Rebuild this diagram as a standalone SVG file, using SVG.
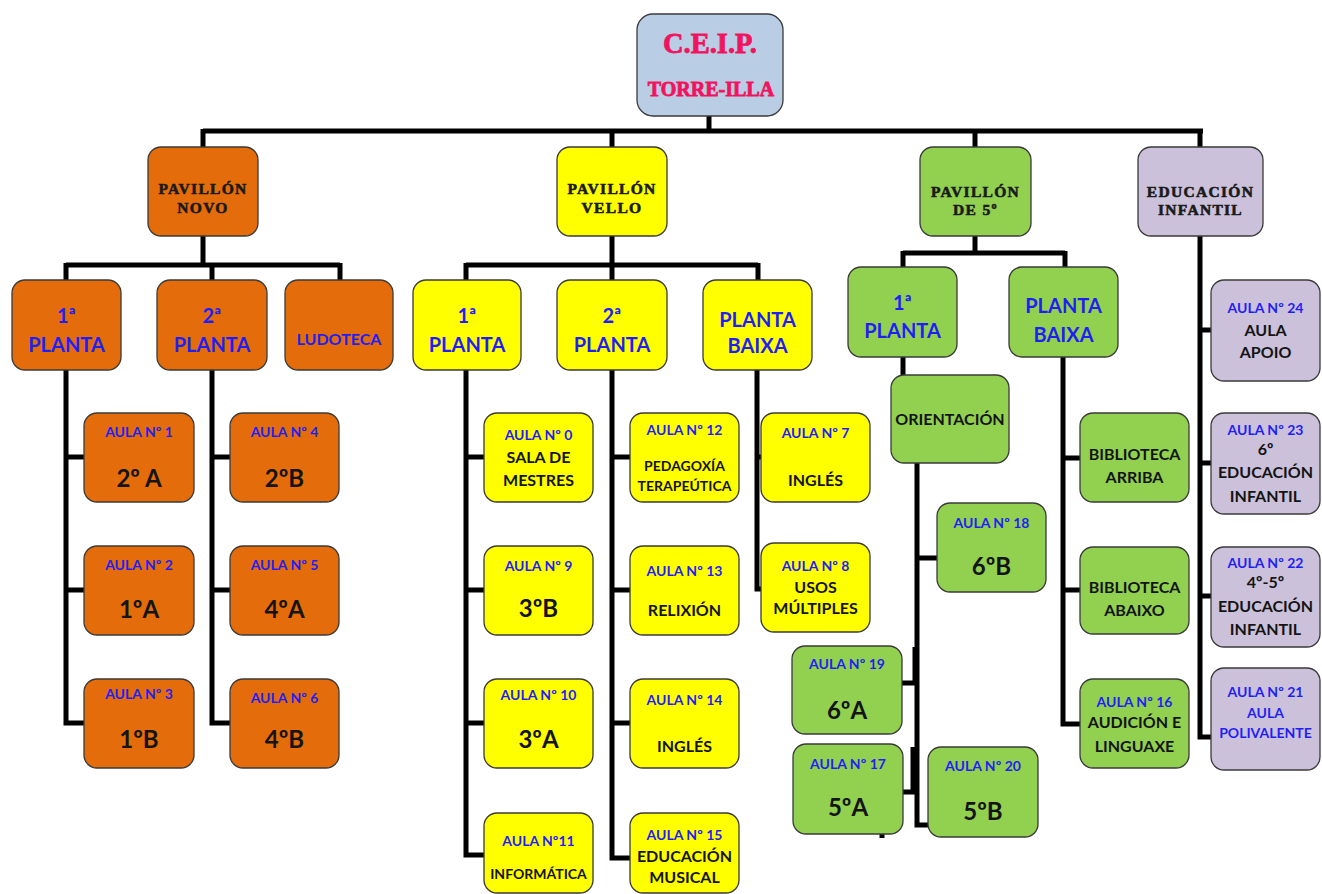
<svg xmlns="http://www.w3.org/2000/svg" width="1322" height="894" viewBox="0 0 1322 894">
<style>
.b{stroke:#3a3a3a;stroke-width:1.3}
.or{fill:#E46C0A}.ye{fill:#FFFF00}.gr{fill:#92D050}.la{fill:#CCC1DA}.rt{fill:#B9CDE5}
text{font-family:Lato,"Open Sans","Liberation Sans",sans-serif;font-weight:bold;text-anchor:middle}
.bl{fill:#1F1FF5}.dk{fill:#141414}
.s{font-size:14px}.m{font-size:16px}.g{font-size:24px}.p{font-size:20px}
.hd{font-family:"Liberation Serif","DejaVu Serif",serif;font-weight:900;font-size:15.5px;fill:#1a1a1a;letter-spacing:1.3px;stroke:#1a1a1a;stroke-width:0.6}
.pk{font-family:"Liberation Serif","DejaVu Serif",serif;font-weight:900;fill:#F0145E;stroke:#F0145E;stroke-width:0.8}
.c{fill:none;stroke:#000;stroke-width:5;stroke-linejoin:miter;stroke-linecap:butt}
</style>
<rect width="1322" height="894" fill="#fff"/>
<g id="connectors">
<path class="c" d="M709 116V131M203 131H1203M203 129V147M612 129V147M975 129V147M1200 129V147"/>
<path class="c" d="M203 236V265M66 265H340M66 263V280M212 263V280M340 263V280"/>
<path class="c" d="M66 370V723H84M66 457H84M66 590H84"/>
<path class="c" d="M212 370V723H230M212 457H230M212 590H230"/>
<path class="c" d="M612 236V265M466 265H758M466 263V280M612 263V280M758 263V280"/>
<path class="c" d="M466 370V855H484M466 457H484M466 590H484M466 723H484"/>
<path class="c" d="M612 370V858H630M612 457H630M612 590H630M612 723H630"/>
<path class="c" d="M757 370V589H761M757 457H761"/>
<path class="c" d="M975 236V253M903 253H1065M903 251V267M1065 251V267"/>
<path class="c" d="M903 357V375"/>
<path class="c" d="M917 463V825H937M917 558H937M917 683H902M915 792H903"/>
<path class="c" d="M915 647V683M913 747V793"/>
<path class="c" d="M882 834V838"/>
<path class="c" d="M1063 357V724H1080M1063 458H1080M1063 590H1080"/>
<path class="c" d="M1200 236V737H1211M1200 330H1211M1200 463H1211M1200 596H1211"/>
</g>
<g id="root"><rect class="b rt" x="637" y="14" width="146" height="102" rx="16"/>
<text class="pk" x="710" y="53" font-size="28.5">C.E.I.P.</text>
<text class="pk" x="711" y="96" font-size="20">TORRE-ILLA</text></g>
<g id="pav-novo"><rect class="b or" x="148" y="147" width="110" height="89" rx="13"/>
<text class="hd" x="203" y="194">PAVILLÓN</text><text class="hd" x="203" y="213">NOVO</text></g>
<g id="pav-vello"><rect class="b ye" x="557" y="147" width="110" height="89" rx="13"/>
<text class="hd" x="612" y="194">PAVILLÓN</text><text class="hd" x="612" y="213">VELLO</text></g>
<g id="pav-5"><rect class="b gr" x="920" y="147" width="111" height="89" rx="13"/>
<text class="hd" x="975.5" y="197">PAVILLÓN</text><text class="hd" x="975.5" y="215">DE 5º</text></g>
<g id="ed-infantil"><rect class="b la" x="1138" y="147" width="125" height="89" rx="13"/>
<text class="hd" x="1200.5" y="197">EDUCACIÓN</text><text class="hd" x="1200.5" y="215">INFANTIL</text></g>

<g id="novo-1p"><rect class="b or" x="12" y="280" width="109" height="90" rx="13"/>
<text class="bl p" x="66.5" y="323">1ª</text><text class="bl p" x="66.5" y="352">PLANTA</text></g>
<g id="novo-2p"><rect class="b or" x="157" y="280" width="110" height="90" rx="13"/>
<text class="bl p" x="212" y="323">2ª</text><text class="bl p" x="212" y="352">PLANTA</text></g>
<g id="ludoteca"><rect class="b or" x="285" y="280" width="108" height="90" rx="13"/>
<text class="bl m" x="339" y="345">LUDOTECA</text></g>

<g id="aula1"><rect class="b or" x="84" y="413" width="110" height="89" rx="13"/>
<text class="bl s" x="139" y="437">AULA Nº 1</text><text class="dk g" x="139" y="487">2º A</text></g>
<g id="aula2"><rect class="b or" x="84" y="546" width="110" height="89" rx="13"/>
<text class="bl s" x="139" y="570">AULA Nº 2</text><text class="dk g" x="139" y="618">1ºA</text></g>
<g id="aula3"><rect class="b or" x="84" y="679" width="110" height="89" rx="13"/>
<text class="bl s" x="139" y="699">AULA Nº 3</text><text class="dk g" x="139" y="748">1ºB</text></g>
<g id="aula4"><rect class="b or" x="230" y="413" width="109" height="89" rx="13"/>
<text class="bl s" x="284.5" y="437">AULA Nº 4</text><text class="dk g" x="284.5" y="487">2ºB</text></g>
<g id="aula5"><rect class="b or" x="230" y="546" width="109" height="89" rx="13"/>
<text class="bl s" x="284.5" y="570">AULA Nº 5</text><text class="dk g" x="284.5" y="618">4ºA</text></g>
<g id="aula6"><rect class="b or" x="230" y="679" width="109" height="89" rx="13"/>
<text class="bl s" x="284.5" y="703">AULA Nº 6</text><text class="dk g" x="284.5" y="748">4ºB</text></g>

<g id="vello-1p"><rect class="b ye" x="413" y="280" width="108" height="90" rx="13"/>
<text class="bl p" x="467" y="323">1ª</text><text class="bl p" x="467" y="352">PLANTA</text></g>
<g id="vello-2p"><rect class="b ye" x="557" y="280" width="110" height="90" rx="13"/>
<text class="bl p" x="612" y="323">2ª</text><text class="bl p" x="612" y="352">PLANTA</text></g>
<g id="vello-pb"><rect class="b ye" x="703" y="280" width="109" height="90" rx="13"/>
<text class="bl p" x="757.5" y="327">PLANTA</text><text class="bl p" x="757.5" y="353">BAIXA</text></g>

<g id="aula0"><rect class="b ye" x="484" y="413" width="109" height="89" rx="13"/>
<text class="bl s" x="538.5" y="440">AULA Nº 0</text><text class="dk m" x="538.5" y="463">SALA DE</text><text class="dk m" x="538.5" y="486">MESTRES</text></g>
<g id="aula9"><rect class="b ye" x="484" y="546" width="109" height="89" rx="13"/>
<text class="bl s" x="538.5" y="571">AULA Nº 9</text><text class="dk g" x="538.5" y="617">3ºB</text></g>
<g id="aula10"><rect class="b ye" x="484" y="679" width="109" height="89" rx="13"/>
<text class="bl s" x="538.5" y="700">AULA Nº 10</text><text class="dk g" x="538.5" y="748">3ºA</text></g>
<g id="aula11"><rect class="b ye" x="484" y="813" width="109" height="80" rx="13"/>
<text class="bl s" x="538.5" y="846">AULA Nº11</text><text class="dk s" x="538.5" y="879">INFORMÁTICA</text></g>
<g id="aula12"><rect class="b ye" x="630" y="413" width="109" height="89" rx="13"/>
<text class="bl s" x="684.5" y="435">AULA Nº 12</text><text class="dk s" x="684.5" y="471">PEDAGOXÍA</text><text class="dk s" x="684.5" y="491">TERAPEÚTICA</text></g>
<g id="aula13"><rect class="b ye" x="630" y="546" width="109" height="89" rx="13"/>
<text class="bl s" x="684.5" y="576">AULA Nº 13</text><text class="dk m" x="684.5" y="616">RELIXIÓN</text></g>
<g id="aula14"><rect class="b ye" x="630" y="679" width="109" height="89" rx="13"/>
<text class="bl s" x="684.5" y="705">AULA Nº 14</text><text class="dk m" x="684.5" y="752">INGLÉS</text></g>
<g id="aula15"><rect class="b ye" x="630" y="813" width="109" height="80" rx="13"/>
<text class="bl s" x="684.5" y="840">AULA Nº 15</text><text class="dk m" x="684.5" y="862">EDUCACIÓN</text><text class="dk m" x="684.5" y="883">MUSICAL</text></g>
<g id="aula7"><rect class="b ye" x="761" y="413" width="109" height="89" rx="13"/>
<text class="bl s" x="815.5" y="438">AULA Nº 7</text><text class="dk m" x="815.5" y="486">INGLÉS</text></g>
<g id="aula8"><rect class="b ye" x="761" y="543" width="109" height="89" rx="13"/>
<text class="bl s" x="815.5" y="571">AULA Nº 8</text><text class="dk m" x="815.5" y="593">USOS</text><text class="dk m" x="815.5" y="614">MÚLTIPLES</text></g>

<g id="g5-1p"><rect class="b gr" x="848" y="267" width="109" height="90" rx="13"/>
<text class="bl p" x="902.5" y="310">1ª</text><text class="bl p" x="902.5" y="338">PLANTA</text></g>
<g id="g5-pb"><rect class="b gr" x="1009" y="267" width="109" height="90" rx="13"/>
<text class="bl p" x="1063.5" y="313">PLANTA</text><text class="bl p" x="1063.5" y="342">BAIXA</text></g>
<g id="orientacion"><rect class="b gr" x="891" y="375" width="118" height="88" rx="13"/>
<text class="dk m" x="950" y="425">ORIENTACIÓN</text></g>
<g id="aula18"><rect class="b gr" x="937" y="503" width="109" height="89" rx="13"/>
<text class="bl s" x="991.5" y="528">AULA Nº 18</text><text class="dk g" x="991.5" y="575">6ºB</text></g>
<g id="aula19"><rect class="b gr" x="792" y="646" width="110" height="88" rx="13"/>
<text class="bl s" x="847" y="669">AULA Nº 19</text><text class="dk g" x="847" y="719">6ºA</text></g>
<g id="aula17"><rect class="b gr" x="793" y="744" width="110" height="90" rx="13"/>
<text class="bl s" x="848" y="769">AULA Nº 17</text><text class="dk g" x="848" y="816">5ºA</text></g>
<g id="aula20"><rect class="b gr" x="928" y="747" width="110" height="90" rx="13"/>
<text class="bl s" x="983" y="771">AULA Nº 20</text><text class="dk g" x="983" y="820">5ºB</text></g>
<g id="bib-arriba"><rect class="b gr" x="1080" y="413" width="109" height="89" rx="13"/>
<text class="dk m" x="1134.5" y="460">BIBLIOTECA</text><text class="dk m" x="1134.5" y="483">ARRIBA</text></g>
<g id="bib-abaixo"><rect class="b gr" x="1080" y="547" width="109" height="87" rx="13"/>
<text class="dk m" x="1134.5" y="593">BIBLIOTECA</text><text class="dk m" x="1134.5" y="616">ABAIXO</text></g>
<g id="aula16"><rect class="b gr" x="1080" y="679" width="109" height="89" rx="13"/>
<text class="bl s" x="1134.5" y="707">AULA Nº 16</text><text class="dk m" x="1134.5" y="728">AUDICIÓN E</text><text class="dk m" x="1134.5" y="752">LINGUAXE</text></g>

<g id="aula24"><rect class="b la" x="1211" y="280" width="109" height="101" rx="13"/>
<text class="bl s" x="1265.5" y="313">AULA Nº 24</text><text class="dk m" x="1265.5" y="336">AULA</text><text class="dk m" x="1265.5" y="358">APOIO</text></g>
<g id="aula23"><rect class="b la" x="1211" y="413" width="109" height="101" rx="13"/>
<text class="bl s" x="1265.5" y="435">AULA Nº 23</text><text class="dk m" x="1265.5" y="455">6º</text><text class="dk m" x="1265.5" y="478">EDUCACIÓN</text><text class="dk m" x="1265.5" y="502">INFANTIL</text></g>
<g id="aula22"><rect class="b la" x="1211" y="547" width="109" height="100" rx="13"/>
<text class="bl s" x="1265.5" y="568">AULA Nº 22</text><text class="dk m" x="1265.5" y="588">4º-5º</text><text class="dk m" x="1265.5" y="612">EDUCACIÓN</text><text class="dk m" x="1265.5" y="635">INFANTIL</text></g>
<g id="aula21"><rect class="b la" x="1211" y="668" width="109" height="102" rx="13"/>
<text class="bl s" x="1265.5" y="697">AULA Nº 21</text><text class="bl s" x="1265.5" y="718">AULA</text><text class="bl s" x="1265.5" y="738">POLIVALENTE</text></g>
</svg>
